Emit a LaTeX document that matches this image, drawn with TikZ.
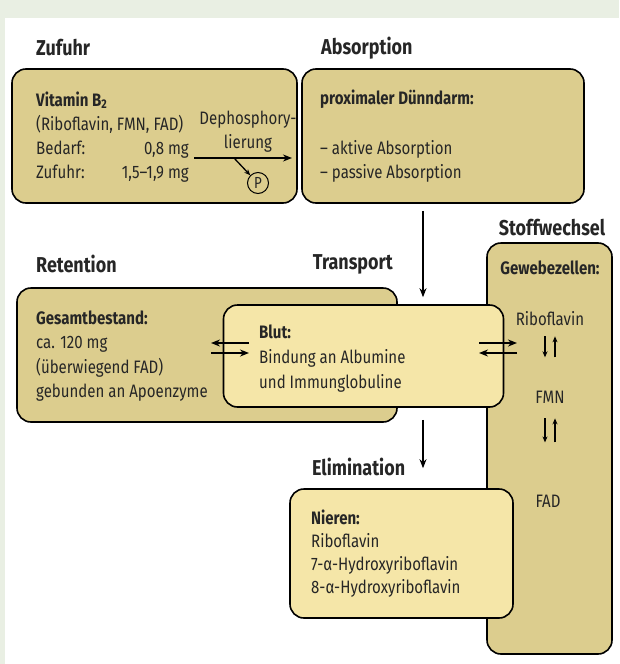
\documentclass[tikz,border=0pt]{standalone}
\usepackage{fontspec}
\setmainfont{Fira Sans}[FakeStretch=0.835]
\usetikzlibrary{arrows.meta,positioning}
\definecolor{tan}{HTML}{DCCD8E}
\definecolor{pale}{HTML}{F5E6A8}
\definecolor{mint}{HTML}{E9EFE3}

\begin{document}
\begin{tikzpicture}[x=1pt, y=-1pt,
    stage/.style={rectangle, draw=black, line width=1.6pt, rounded corners=14pt, fill=tan},
    organ/.style={rectangle, draw=black, line width=1.6pt, rounded corners=14pt, fill=pale},
    heading/.style={font=\fontsize{21.5}{24}\selectfont\bfseries, inner sep=0pt, text=black!85},
    txt/.style={font=\fontsize{18}{24}\selectfont, inner sep=0pt, align=left, text=black!85},
    arrow/.style={-{Stealth[length=9pt,width=7pt]}, line width=1.6pt},
    flow/.style={-{Stealth[length=6pt,width=5pt]}, line width=1.3pt}
]

% Background
\useasboundingbox (0,0) rectangle (619,664);
\fill[mint] (0,0) rectangle (619,664);
\fill[white] (5,18) rectangle (619,664);

% Boxes
\node[stage, minimum width=285pt, minimum height=134pt] (zufuhr) at (154.5,136) {};
\node[stage, minimum width=282pt, minimum height=134pt] (absorb) at (443,136) {};
\node[stage, minimum width=380pt, minimum height=134pt] (retention) at (207,355) {};
\node[stage, minimum width=125pt, minimum height=411pt] (stoff) at (549.5,448.5) {};
\node[organ, minimum width=280pt, minimum height=102pt] (blut) at (363.5,356) {};
\node[organ, minimum width=223pt, minimum height=129pt] (nieren) at (401.5,553.5) {};

% Titles
\node[heading, anchor=west] (t-zufuhr) at (36,48) {Zufuhr};
\node[heading, anchor=west] (t-absorb) at (321,48) {Absorption};
\node[heading] (t-stoff) at (552,228) {Stoffwechsel};
\node[heading, anchor=west] (t-retention) at (36,264) {Retention};
\node[heading, anchor=east] (t-transport) at (393,264) {Transport};
\node[heading, anchor=west] (t-elim) at (312,467) {Elimination};

% Zufuhr (base = last line)
\node[txt, anchor=base west] (vitamin) at (36,178) {\textbf{Vitamin B\textsubscript{2}}\\(Riboflavin, FMN, FAD)\\Bedarf:\\Zufuhr:};
\node[txt, anchor=base east] (bedarf) at (189,154) {0,8 mg};
\node[txt, anchor=base east] (menge) at (189,178) {1,5–1,9 mg};
\node[txt, anchor=base, align=center] (dephos) at (248,148) {Dephosphory-\\lierung};
\node[circle, draw=black, line width=1pt, inner sep=0pt, minimum size=21pt,
      font=\fontsize{16}{16}\selectfont, text=black!85] (phos) at (258,183) {P};
\coordinate (dephos-in) at (194,158);
\coordinate (dephos-out) at (292,158);
\coordinate (split) at (234,158);

% Absorption
\node[txt, anchor=base west] (duenn) at (320,104) {\textbf{proximaler Dünndarm:}};
\node[txt, anchor=base west] (aktiv) at (320,178) {– aktive Absorption\\– passive Absorption};

% Retention
\node[txt, anchor=base west, font=\fontsize{18}{24.5}\selectfont] (bestand) at (36,397.5) {\textbf{Gesamtbestand:}\\ca. 120 mg\\(überwiegend FAD)\\gebunden an Apoenzyme};

% Transport
\node[txt, anchor=base west, font=\fontsize{18}{25}\selectfont] (bindung) at (259,388) {\textbf{Blut:}\\Bindung an Albumine\\und Immunglobuline};

% Stoffwechsel
\node[txt, font=\fontsize{18}{24}\selectfont\bfseries] (gewebe) at (550,268) {Gewebezellen:};
\node[txt] (ribo) at (550,319) {Riboflavin};
\node[txt] (fmn) at (550,397) {FMN};
\node[txt] (fad) at (548,501) {FAD};

% Elimination
\node[txt, anchor=base west, font=\fontsize{18}{22.7}\selectfont] (harn) at (311,593) {\textbf{Nieren:}\\Riboflavin\\7-α-Hydroxyriboflavin\\8-α-Hydroxyriboflavin};

% Main flow
\coordinate (trans) at (423,0);
\draw[arrow, shorten <=7pt, shorten >=7pt] (absorb.south -| trans) -- (blut.north -| trans);
\draw[arrow, shorten <=12pt, shorten >=20pt] (blut.south -| trans) -- (nieren.north -| trans);
\draw[arrow] (dephos-in) -- (dephos-out);
\draw[flow] (split) -- (phos.north west);

% Exchange Retention <-> Blut
\coordinate (rl-a) at (249,343); \coordinate (rl-b) at (211,343);
\coordinate (rr-a) at (211,353); \coordinate (rr-b) at (249,353);
\draw[arrow] (rl-a) -- (rl-b);
\draw[arrow] (rr-a) -- (rr-b);

% Exchange Blut <-> Gewebe
\coordinate (bl-a) at (479,343); \coordinate (bl-b) at (517,343);
\coordinate (br-a) at (517,353); \coordinate (br-b) at (479,353);
\draw[arrow] (bl-a) -- (bl-b);
\draw[arrow] (br-a) -- (br-b);

% Riboflavin <-> FMN <-> FAD
\draw[flow] ([xshift=-5pt, yshift=-10pt]ribo.south) -- ([xshift=-5pt, yshift=-31pt]ribo.south);
\draw[flow] ([xshift=5pt, yshift=-31pt]ribo.south) -- ([xshift=5pt, yshift=-10pt]ribo.south);
\draw[flow] ([xshift=-5pt, yshift=-15pt]fmn.south) -- ([xshift=-5pt, yshift=-39pt]fmn.south);
\draw[flow] ([xshift=5pt, yshift=-39pt]fmn.south) -- ([xshift=5pt, yshift=-15pt]fmn.south);

\end{tikzpicture}
\end{document}
